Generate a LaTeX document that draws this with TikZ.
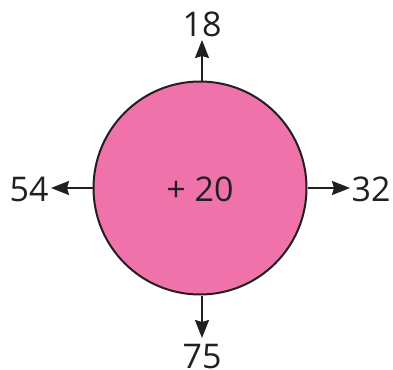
\documentclass[tikz,border=0pt]{standalone}
\usepackage{fontspec}
\setmainfont{Open Sans}
\usetikzlibrary{arrows.meta}
\definecolor{pinkfill}{RGB}{240,114,170}
\definecolor{ink}{RGB}{35,31,32}
\begin{document}
\begin{tikzpicture}[x=1pt,y=-1pt,
  lbl/.style={font=\fontsize{34}{34}\selectfont, text=ink, inner sep=0pt},
  arr/.style={draw=ink, line width=2pt, -{Stealth[length=18pt,width=14pt,inset=2pt]}}]
\useasboundingbox (0,0) rectangle (393,369);
\node[circle, draw=ink, line width=2pt, fill=pinkfill, minimum size=213pt, inner sep=0pt] (c) at (200,188) {};
\node[lbl] (m) at (200,189) {+ 20};
\node[lbl] (t) at (202,24) {18};
\node[lbl] (l) at (29,189) {54};
\node[lbl] (r) at (371,189) {32};
\node[lbl] (b) at (202,357) {75};
\coordinate (tt) at (202,40);
\coordinate (ll) at (51,188);
\coordinate (rr) at (350,188);
\coordinate (bb) at (202,338);
\draw[arr] (c.north -| tt) -- (tt);
\draw[arr] (c.west) -- (ll);
\draw[arr] (c.east) -- (rr);
\draw[arr] (c.south -| bb) -- (bb);
\end{tikzpicture}
\end{document}
